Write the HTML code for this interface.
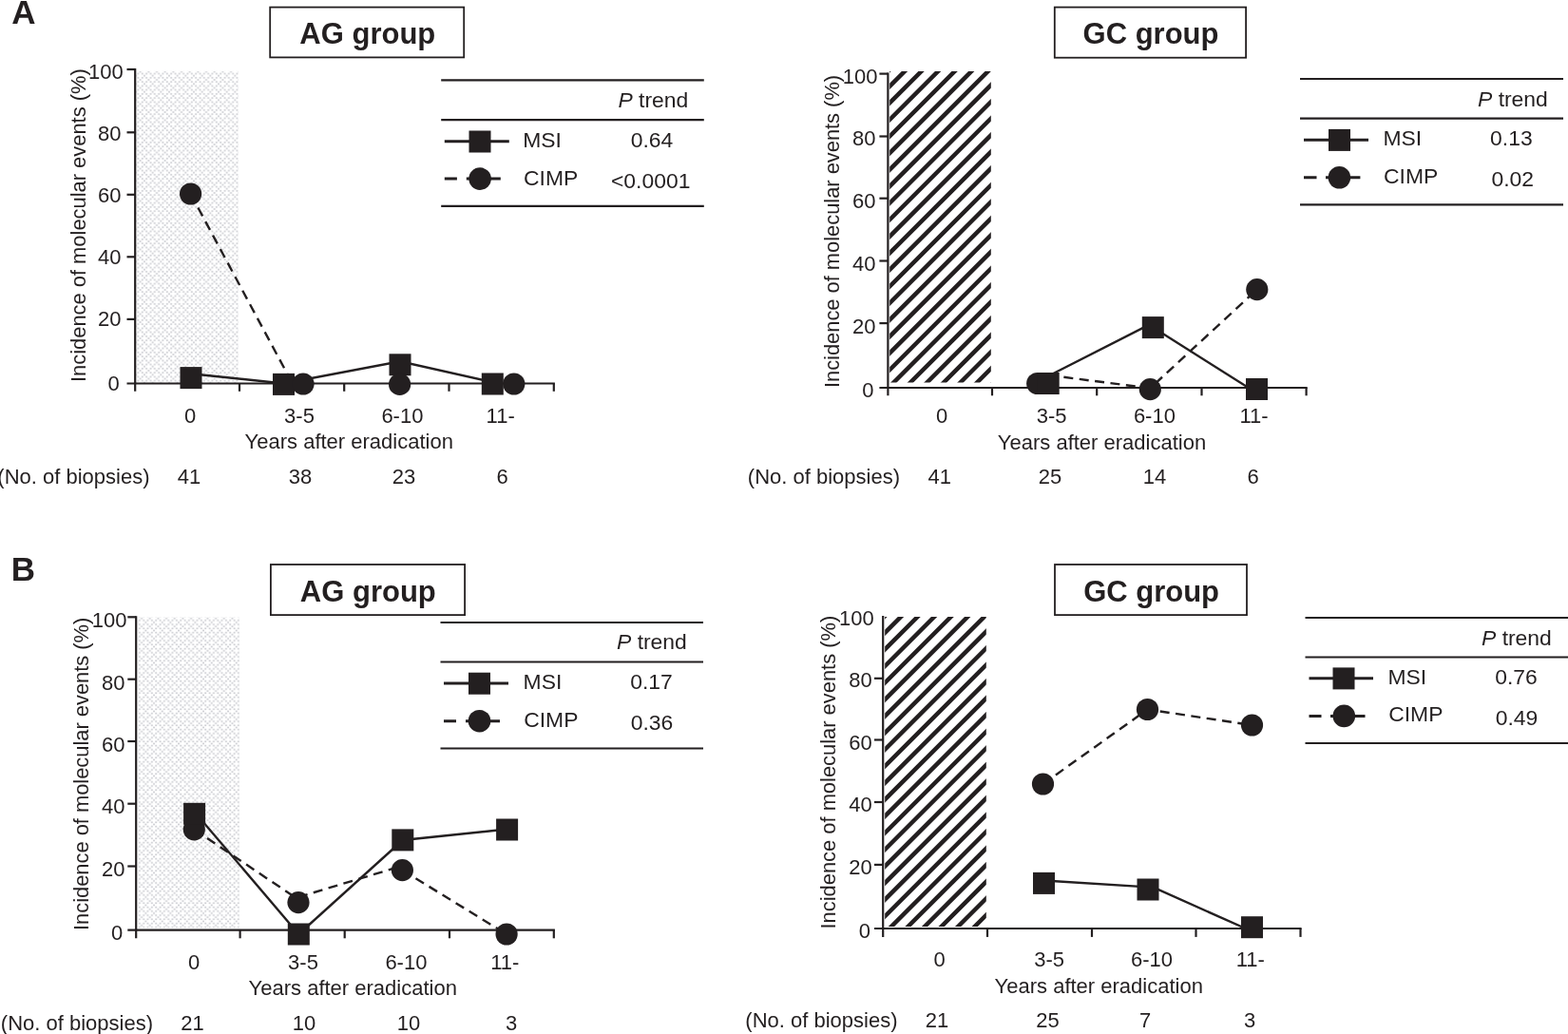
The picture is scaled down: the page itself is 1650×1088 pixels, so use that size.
<!DOCTYPE html>
<html lang="en">
<head>
<meta charset="utf-8">
<title>Incidence of molecular events after eradication</title>
<style>
html,body{margin:0;padding:0;background:#fff}
body{width:1650px;height:1088px;overflow:hidden}
svg{display:block}
svg text{font-family:"Liberation Sans",Arial,Helvetica,sans-serif;font-size:22px;fill:#231f20}
svg text.ttl{font-size:31px;font-weight:bold}
svg text.lg{font-size:22.9px}
svg text.pl{font-weight:bold}
</style>
</head>
<body>
<svg width="1650" height="1088" viewBox="0 0 1650 1088">
<defs>
<pattern id="dotsAL" patternUnits="userSpaceOnUse" x="143.3" y="75.5" width="8.67" height="8.5"><rect x="3.4" y="-0.85" width="1.9" height="1.7" fill="#cdced3"/><rect x="1.22" y="1.28" width="1.9" height="1.7" fill="#cdced3"/><rect x="5.55" y="1.28" width="1.9" height="1.7" fill="#cdced3"/><rect x="-0.95" y="3.4" width="1.9" height="1.7" fill="#cdced3"/><rect x="7.72" y="3.4" width="1.9" height="1.7" fill="#cdced3"/><rect x="1.22" y="5.53" width="1.9" height="1.7" fill="#cdced3"/><rect x="5.55" y="5.53" width="1.9" height="1.7" fill="#cdced3"/><rect x="3.4" y="7.65" width="1.9" height="1.7" fill="#cdced3"/></pattern>
<pattern id="dotsBL" patternUnits="userSpaceOnUse" x="144.7" y="650.7" width="8.67" height="8.5"><rect x="3.4" y="-0.85" width="1.9" height="1.7" fill="#cdced3"/><rect x="1.22" y="1.28" width="1.9" height="1.7" fill="#cdced3"/><rect x="5.55" y="1.28" width="1.9" height="1.7" fill="#cdced3"/><rect x="-0.95" y="3.4" width="1.9" height="1.7" fill="#cdced3"/><rect x="7.72" y="3.4" width="1.9" height="1.7" fill="#cdced3"/><rect x="1.22" y="5.53" width="1.9" height="1.7" fill="#cdced3"/><rect x="5.55" y="5.53" width="1.9" height="1.7" fill="#cdced3"/><rect x="3.4" y="7.65" width="1.9" height="1.7" fill="#cdced3"/></pattern>
<filter id="soft" x="-2%" y="-2%" width="104%" height="104%"><feGaussianBlur stdDeviation="0.45"/></filter>
</defs>
<rect width="1650" height="1088" fill="#fff"/>
<text x="24.85" y="25" text-anchor="middle" class="pl" style="font-size:35px">A</text>
<text x="11.7" y="610.9" class="pl" style="font-size:35px">B</text>
<g id="panel-AL">
<rect x="143.3" y="74.8" width="107.7" height="328.7" fill="url(#dotsAL)" filter="url(#soft)"/>
<rect x="284.2" y="7.6" width="204" height="52.8" fill="#fff" stroke="#231f20" stroke-width="1.8"/>
<text x="386.8" y="46.4" text-anchor="middle" class="ttl">AG group</text>
<g stroke="#231f20" stroke-width="2.2" fill="none">
<path d="M142.2 71.9V411.8"/>
<path d="M133.5 403.5H583.9"/>
<path d="M133.5 73H142.2"/>
<path d="M133.5 139.3H142.2"/>
<path d="M133.5 204.8H142.2"/>
<path d="M133.5 270.3H142.2"/>
<path d="M133.5 335.9H142.2"/>
<path d="M252 403.5V411.8"/>
<path d="M362.2 403.5V411.8"/>
<path d="M472.5 403.5V411.8"/>
<path d="M582.8 403.5V411.8"/>
</g>
<text x="129.7" y="82.6" text-anchor="end">100</text>
<text x="127.5" y="148.3" text-anchor="end">80</text>
<text x="127.5" y="212.7" text-anchor="end">60</text>
<text x="127.5" y="278.2" text-anchor="end">40</text>
<text x="127.5" y="343.2" text-anchor="end">20</text>
<text x="125.8" y="410.9" text-anchor="end">0</text>
<text transform="translate(90.3 402) rotate(-90)" x="0" y="0" textLength="329.7" lengthAdjust="spacingAndGlyphs">Incidence of molecular events (%)</text>
<text x="200" y="444.7" text-anchor="middle">0</text>
<text x="315" y="444.7" text-anchor="middle">3-5</text>
<text x="423.4" y="444.7" text-anchor="middle">6-10</text>
<text x="526.7" y="444.7" text-anchor="middle">11-</text>
<text x="367.25" y="472.2" text-anchor="middle">Years after eradication</text>
<text x="157.5" y="508.7" text-anchor="end">(No. of biopsies)</text>
<text x="199" y="508.7" text-anchor="middle">41</text>
<text x="316" y="508.7" text-anchor="middle">38</text>
<text x="425" y="508.7" text-anchor="middle">23</text>
<text x="528.5" y="508.7" text-anchor="middle">6</text>
<polyline points="201,393.2 298.5,403.5 421,380.3 518.3,402.2" fill="none" stroke="#231f20" stroke-width="2.4"/>
<polyline points="200.6,204 307.5,403" fill="none" stroke="#231f20" stroke-width="2.4" stroke-dasharray="10 6.5" stroke-dashoffset="0"/>
<rect x="189.5" y="386.1" width="23" height="23" fill="#231f20"/>
<circle cx="200.6" cy="204" r="11.6" fill="#231f20"/>
<rect x="287" y="392.9" width="23" height="23" fill="#231f20"/>
<circle cx="319" cy="404" r="11.6" fill="#231f20"/>
<rect x="409.5" y="372.3" width="23" height="23" fill="#231f20"/>
<circle cx="420.6" cy="404.4" r="11.6" fill="#231f20"/>
<rect x="506.8" y="392.5" width="23" height="23" fill="#231f20"/>
<circle cx="540.8" cy="404" r="11.6" fill="#231f20"/>
<path d="M464.2 84.4H740.8" stroke="#231f20" stroke-width="2.2"/>
<path d="M464.2 126.2H740.8" stroke="#231f20" stroke-width="2.2"/>
<path d="M464.2 216.8H740.8" stroke="#231f20" stroke-width="2.2"/>
<text class="lg" x="650.4" y="113.3"><tspan font-style="italic">P</tspan> trend</text>
<path d="M467.8 148.8H535.8" stroke="#231f20" stroke-width="3"/>
<rect x="493.5" y="137.5" width="23" height="23" fill="#231f20"/>
<text class="lg" x="550.2" y="154.7">MSI</text>
<text class="lg" x="686" y="154.7" text-anchor="middle">0.64</text>
<path d="M467.8 188.1H480.9M490.8 188.1H526.8" stroke="#231f20" stroke-width="3"/>
<circle cx="505.1" cy="188.1" r="11.8" fill="#231f20"/>
<text class="lg" x="551" y="194.7">CIMP</text>
<text class="lg" x="684.7" y="197.9" text-anchor="middle">&lt;0.0001</text>
</g>
<g id="panel-AR">
<clipPath id="hcAR"><rect x="936.2" y="75" width="106.6" height="327.5"/></clipPath>
<g clip-path="url(#hcAR)" stroke="#231f20" stroke-width="4.5">
<path d="M926.2 48.15L1052.8 -78.45M926.2 65.7L1052.8 -60.9M926.2 83.25L1052.8 -43.35M926.2 100.8L1052.8 -25.8M926.2 118.35L1052.8 -8.25M926.2 135.9L1052.8 9.3M926.2 153.45L1052.8 26.85M926.2 171L1052.8 44.4M926.2 188.55L1052.8 61.95M926.2 206.1L1052.8 79.5M926.2 223.65L1052.8 97.05M926.2 241.2L1052.8 114.6M926.2 258.75L1052.8 132.15M926.2 276.3L1052.8 149.7M926.2 293.85L1052.8 167.25M926.2 311.4L1052.8 184.8M926.2 328.95L1052.8 202.35M926.2 346.5L1052.8 219.9M926.2 364.05L1052.8 237.45M926.2 381.6L1052.8 255M926.2 399.15L1052.8 272.55M926.2 416.7L1052.8 290.1M926.2 434.25L1052.8 307.65M926.2 451.8L1052.8 325.2M926.2 469.35L1052.8 342.75M926.2 486.9L1052.8 360.3M926.2 504.45L1052.8 377.85M926.2 522L1052.8 395.4M926.2 539.55L1052.8 412.95" fill="none"/>
</g>
<rect x="1109.8" y="7.6" width="201.3" height="53.1" fill="#fff" stroke="#231f20" stroke-width="1.8"/>
<text x="1211" y="46.4" text-anchor="middle" class="ttl">GC group</text>
<g stroke="#231f20" stroke-width="2.2" fill="none">
<path d="M934.4 76.5V416.3"/>
<path d="M925.4 408H1375.7"/>
<path d="M925.4 77.6H934.4"/>
<path d="M925.4 143.5H934.4"/>
<path d="M925.4 208.7H934.4"/>
<path d="M925.4 274.5H934.4"/>
<path d="M925.4 340.1H934.4"/>
<path d="M1044 408V416.3"/>
<path d="M1154.2 408V416.3"/>
<path d="M1264.5 408V416.3"/>
<path d="M1374.6 408V416.3"/>
</g>
<text x="923.4" y="88.1" text-anchor="end">100</text>
<text x="921.4" y="153.4" text-anchor="end">80</text>
<text x="921.4" y="218.8" text-anchor="end">60</text>
<text x="921.4" y="284.7" text-anchor="end">40</text>
<text x="921.4" y="350.7" text-anchor="end">20</text>
<text x="919.6" y="417.8" text-anchor="end">0</text>
<text transform="translate(883.3 408.1) rotate(-90)" x="0" y="0" textLength="329.2" lengthAdjust="spacingAndGlyphs">Incidence of molecular events (%)</text>
<text x="991.2" y="444.5" text-anchor="middle">0</text>
<text x="1106.6" y="444.5" text-anchor="middle">3-5</text>
<text x="1214.9" y="444.5" text-anchor="middle">6-10</text>
<text x="1319.5" y="444.5" text-anchor="middle">11-</text>
<text x="1159.5" y="472.5" text-anchor="middle">Years after eradication</text>
<text x="947" y="508.6" text-anchor="end">(No. of biopsies)</text>
<text x="988.8" y="508.6" text-anchor="middle">41</text>
<text x="1105.1" y="508.6" text-anchor="middle">25</text>
<text x="1215" y="508.6" text-anchor="middle">14</text>
<text x="1318.5" y="508.6" text-anchor="middle">6</text>
<polyline points="1103,395.7 1213.3,339.6" fill="none" stroke="#231f20" stroke-width="2.4"/>
<polyline points="1213.3,344.6 1322.5,413.5" fill="none" stroke="#231f20" stroke-width="2.4"/>
<polyline points="1103,394.7 1210.3,408.5 1322.8,304.6" fill="none" stroke="#231f20" stroke-width="2.4" stroke-dasharray="10 6.5" stroke-dashoffset="0"/>
<circle cx="1091.7" cy="403.5" r="11.6" fill="#231f20"/>
<rect x="1091.7" y="392" width="23" height="23" fill="#231f20"/>
<rect x="1201.8" y="333.1" width="23" height="23" fill="#231f20"/>
<circle cx="1210.3" cy="409.6" r="11.6" fill="#231f20"/>
<rect x="1311" y="398" width="23" height="23" fill="#231f20"/>
<circle cx="1322.8" cy="304.6" r="11.6" fill="#231f20"/>
<path d="M1368 83H1645" stroke="#231f20" stroke-width="2.2"/>
<path d="M1368 124.7H1645" stroke="#231f20" stroke-width="2.2"/>
<path d="M1368 215.3H1645" stroke="#231f20" stroke-width="2.2"/>
<text class="lg" x="1555" y="112"><tspan font-style="italic">P</tspan> trend</text>
<path d="M1372 147.2H1440" stroke="#231f20" stroke-width="3"/>
<rect x="1398" y="135.9" width="23" height="23" fill="#231f20"/>
<text class="lg" x="1455.4" y="152.8">MSI</text>
<text class="lg" x="1590.4" y="152.8" text-anchor="middle">0.13</text>
<path d="M1372 186.8H1385.5M1395 186.8H1431.4" stroke="#231f20" stroke-width="3"/>
<circle cx="1409.4" cy="186.8" r="11.8" fill="#231f20"/>
<text class="lg" x="1456.1" y="192.7">CIMP</text>
<text class="lg" x="1591.7" y="196.4" text-anchor="middle">0.02</text>
</g>
<g id="panel-BL">
<rect x="145.5" y="649.5" width="106.5" height="327" fill="url(#dotsBL)" filter="url(#soft)"/>
<rect x="284.9" y="594" width="204.2" height="53.1" fill="#fff" stroke="#231f20" stroke-width="1.8"/>
<text x="387.3" y="633.1" text-anchor="middle" class="ttl">AG group</text>
<g stroke="#231f20" stroke-width="2.2" fill="none">
<path d="M143.2 648.2V987.3"/>
<path d="M134.3 978.6H583.9"/>
<path d="M134.3 649.3H143.2"/>
<path d="M134.3 714.7H143.2"/>
<path d="M134.3 780H143.2"/>
<path d="M134.3 845.7H143.2"/>
<path d="M134.3 911.5H143.2"/>
<path d="M252.6 978.6V987.3"/>
<path d="M362.7 978.6V987.3"/>
<path d="M473 978.6V987.3"/>
<path d="M582.8 978.6V987.3"/>
</g>
<text x="133.4" y="659.9" text-anchor="end">100</text>
<text x="131.6" y="725.6" text-anchor="end">80</text>
<text x="131.6" y="791" text-anchor="end">60</text>
<text x="131.6" y="856.3" text-anchor="end">40</text>
<text x="131.6" y="921.7" text-anchor="end">20</text>
<text x="129.3" y="988.8" text-anchor="end">0</text>
<text transform="translate(93.1 979) rotate(-90)" x="0" y="0" textLength="329.3" lengthAdjust="spacingAndGlyphs">Incidence of molecular events (%)</text>
<text x="204" y="1019.8" text-anchor="middle">0</text>
<text x="319" y="1019.8" text-anchor="middle">3-5</text>
<text x="427.4" y="1019.8" text-anchor="middle">6-10</text>
<text x="531.3" y="1019.8" text-anchor="middle">11-</text>
<text x="371.25" y="1047.3" text-anchor="middle">Years after eradication</text>
<text x="161" y="1083.8" text-anchor="end">(No. of biopsies)</text>
<text x="202.5" y="1083.8" text-anchor="middle">21</text>
<text x="320" y="1083.8" text-anchor="middle">10</text>
<text x="430" y="1083.8" text-anchor="middle">10</text>
<text x="538" y="1083.8" text-anchor="middle">3</text>
<polyline points="204.5,854 314.3,983 423.8,884 533.6,872.5" fill="none" stroke="#231f20" stroke-width="2.4"/>
<polyline points="204.3,872.8 314,946.5" fill="none" stroke="#231f20" stroke-width="2.4" stroke-dasharray="10 6.5" stroke-dashoffset="0"/>
<polyline points="314,944 423.4,911" fill="none" stroke="#231f20" stroke-width="2.4" stroke-dasharray="10 6.5" stroke-dashoffset="0"/>
<polyline points="423.4,915.6 533.1,983" fill="none" stroke="#231f20" stroke-width="2.4" stroke-dasharray="10 6.5" stroke-dashoffset="0"/>
<circle cx="204.3" cy="872.8" r="11.6" fill="#231f20"/>
<rect x="193.1" y="844.8" width="23" height="23" fill="#231f20"/>
<rect x="302.8" y="971.5" width="23" height="23" fill="#231f20"/>
<circle cx="314" cy="949.6" r="11.6" fill="#231f20"/>
<rect x="412.3" y="872.4" width="23" height="23" fill="#231f20"/>
<circle cx="423.4" cy="915.6" r="11.6" fill="#231f20"/>
<rect x="522.1" y="861.5" width="23" height="23" fill="#231f20"/>
<circle cx="533.1" cy="983" r="11.6" fill="#231f20"/>
<path d="M463.5 655H740" stroke="#231f20" stroke-width="2.2"/>
<path d="M463.5 696.5H740" stroke="#231f20" stroke-width="2.2"/>
<path d="M463.5 787.5H740" stroke="#231f20" stroke-width="2.2"/>
<text class="lg" x="649" y="683"><tspan font-style="italic">P</tspan> trend</text>
<path d="M467 719H535" stroke="#231f20" stroke-width="3"/>
<rect x="493" y="707.7" width="23" height="23" fill="#231f20"/>
<text class="lg" x="550.6" y="724.5">MSI</text>
<text class="lg" x="685.5" y="724.5" text-anchor="middle">0.17</text>
<path d="M467 758.7H480M490 758.7H526" stroke="#231f20" stroke-width="3"/>
<circle cx="504.5" cy="758.7" r="11.8" fill="#231f20"/>
<text class="lg" x="551.2" y="765">CIMP</text>
<text class="lg" x="686" y="768" text-anchor="middle">0.36</text>
</g>
<g id="panel-BR">
<clipPath id="hcBR"><rect x="931.2" y="649" width="106.6" height="326"/></clipPath>
<g clip-path="url(#hcBR)" stroke="#231f20" stroke-width="4.5">
<path d="M921.2 623.15L1047.8 496.55M921.2 640.7L1047.8 514.1M921.2 658.25L1047.8 531.65M921.2 675.8L1047.8 549.2M921.2 693.35L1047.8 566.75M921.2 710.9L1047.8 584.3M921.2 728.45L1047.8 601.85M921.2 746L1047.8 619.4M921.2 763.55L1047.8 636.95M921.2 781.1L1047.8 654.5M921.2 798.65L1047.8 672.05M921.2 816.2L1047.8 689.6M921.2 833.75L1047.8 707.15M921.2 851.3L1047.8 724.7M921.2 868.85L1047.8 742.25M921.2 886.4L1047.8 759.8M921.2 903.95L1047.8 777.35M921.2 921.5L1047.8 794.9M921.2 939.05L1047.8 812.45M921.2 956.6L1047.8 830M921.2 974.15L1047.8 847.55M921.2 991.7L1047.8 865.1M921.2 1009.25L1047.8 882.65M921.2 1026.8L1047.8 900.2M921.2 1044.35L1047.8 917.75M921.2 1061.9L1047.8 935.3M921.2 1079.45L1047.8 952.85M921.2 1097L1047.8 970.4M921.2 1114.55L1047.8 987.95" fill="none"/>
</g>
<rect x="1110" y="594" width="202" height="53.1" fill="#fff" stroke="#231f20" stroke-width="1.8"/>
<text x="1211.6" y="633.1" text-anchor="middle" class="ttl">GC group</text>
<g stroke="#231f20" stroke-width="2.2" fill="none">
<path d="M929.2 647.9V985.9"/>
<path d="M920 977H1369.6"/>
<path d="M920 713.8H929.2"/>
<path d="M920 778.5H929.2"/>
<path d="M920 844H929.2"/>
<path d="M920 909.9H929.2"/>
<path d="M1039 977V985.9"/>
<path d="M1149 977V985.9"/>
<path d="M1258.5 977V985.9"/>
<path d="M1368.5 977V985.9"/>
</g>
<text x="919.7" y="657.9" text-anchor="end">100</text>
<text x="917.7" y="723.4" text-anchor="end">80</text>
<text x="917.7" y="788.8" text-anchor="end">60</text>
<text x="917.7" y="854.4" text-anchor="end">40</text>
<text x="917.7" y="920" text-anchor="end">20</text>
<text x="915.9" y="987.3" text-anchor="end">0</text>
<text transform="translate(879.2 977.5) rotate(-90)" x="0" y="0" textLength="329.75" lengthAdjust="spacingAndGlyphs">Incidence of molecular events (%)</text>
<text x="988.5" y="1016.5" text-anchor="middle">0</text>
<text x="1104.2" y="1016.5" text-anchor="middle">3-5</text>
<text x="1212" y="1016.5" text-anchor="middle">6-10</text>
<text x="1315.8" y="1016.5" text-anchor="middle">11-</text>
<text x="1156.25" y="1044.5" text-anchor="middle">Years after eradication</text>
<text x="944.5" y="1080.5" text-anchor="end">(No. of biopsies)</text>
<text x="986" y="1080.5" text-anchor="middle">21</text>
<text x="1102.5" y="1080.5" text-anchor="middle">25</text>
<text x="1205" y="1080.5" text-anchor="middle">7</text>
<text x="1315" y="1080.5" text-anchor="middle">3</text>
<polyline points="1098.5,926.5 1208,933.4" fill="none" stroke="#231f20" stroke-width="2.4"/>
<polyline points="1208,931.2 1317.5,980" fill="none" stroke="#231f20" stroke-width="2.4"/>
<polyline points="1097.5,825 1207.5,746.5 1317.5,763" fill="none" stroke="#231f20" stroke-width="2.4" stroke-dasharray="10 6.5" stroke-dashoffset="0"/>
<circle cx="1097.5" cy="825" r="11.6" fill="#231f20"/>
<circle cx="1207.5" cy="746.5" r="11.6" fill="#231f20"/>
<circle cx="1317.5" cy="763" r="11.6" fill="#231f20"/>
<rect x="1087" y="917.9" width="23" height="23" fill="#231f20"/>
<rect x="1196.5" y="924.5" width="23" height="23" fill="#231f20"/>
<rect x="1306" y="964.2" width="23" height="23" fill="#231f20"/>
<path d="M1373.5 650H1650" stroke="#231f20" stroke-width="2.2"/>
<path d="M1373.5 691.5H1650" stroke="#231f20" stroke-width="2.2"/>
<path d="M1373.5 782H1650" stroke="#231f20" stroke-width="2.2"/>
<text class="lg" x="1559" y="679"><tspan font-style="italic">P</tspan> trend</text>
<path d="M1377.5 713.7H1445" stroke="#231f20" stroke-width="3"/>
<rect x="1402.5" y="702.4" width="23" height="23" fill="#231f20"/>
<text class="lg" x="1460.5" y="720">MSI</text>
<text class="lg" x="1595.5" y="720" text-anchor="middle">0.76</text>
<path d="M1377.5 753.4H1390.5M1400 753.4H1436.5" stroke="#231f20" stroke-width="3"/>
<circle cx="1414.3" cy="753.4" r="11.8" fill="#231f20"/>
<text class="lg" x="1461.2" y="759">CIMP</text>
<text class="lg" x="1596" y="763" text-anchor="middle">0.49</text>
</g>
</svg>
</body>
</html>
